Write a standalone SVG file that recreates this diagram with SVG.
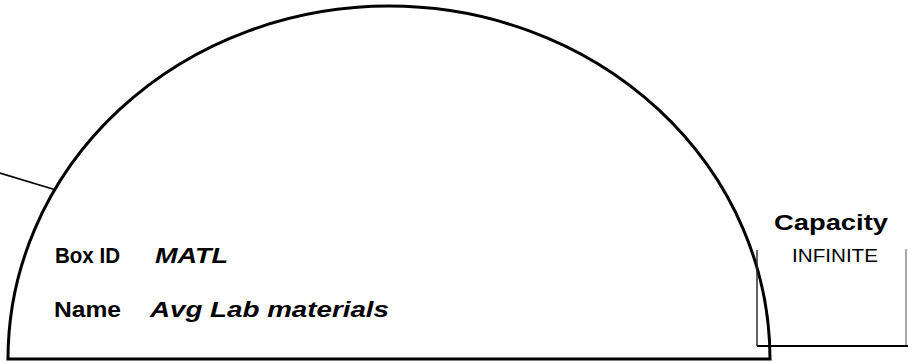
<svg xmlns="http://www.w3.org/2000/svg" width="908" height="362" viewBox="0 0 908 362">
<style>
.arc{fill:none;stroke:#000;stroke-width:3}
.ln{fill:none;stroke:#000;stroke-width:1.8}
.thin{fill:none;stroke:#222;stroke-width:1.4}
.hair{fill:none;stroke:#555;stroke-width:1}
.lbl{font-family:"Liberation Sans",Arial,sans-serif;font-weight:bold;fill:#000}
.val{font-family:"Liberation Sans",Arial,sans-serif;font-weight:bold;font-style:italic;fill:#000}
.reg{font-family:"Liberation Sans",Arial,sans-serif;fill:#000}
</style>
<g id="connectors">
<line class="ln" x1="0" y1="173" x2="56" y2="190"/>
</g>
<g id="box-matl">
<path class="arc" d="M8,359 A381,353 0 0 1 770,359 Z"/>
<text class="lbl" x="55" y="263" font-size="22" textLength="65" lengthAdjust="spacingAndGlyphs">Box ID</text>
<text class="val" x="155" y="263" font-size="22" textLength="73" lengthAdjust="spacingAndGlyphs">MATL</text>
<text class="lbl" x="54" y="317" font-size="22" textLength="67" lengthAdjust="spacingAndGlyphs">Name</text>
<text class="val" x="150" y="317" font-size="22" textLength="239" lengthAdjust="spacingAndGlyphs">Avg Lab materials</text>
</g>
<g id="capacity">
<path class="thin" d="M757,250 V346"/>
<path class="hair" d="M906,249 V346"/>
<path class="ln" d="M757,346 H908"/>
<text class="lbl" x="774" y="230" font-size="22" textLength="114" lengthAdjust="spacingAndGlyphs">Capacity</text>
<text class="reg" x="792" y="262" font-size="18" textLength="86" lengthAdjust="spacingAndGlyphs">INFINITE</text>
</g>
</svg>
